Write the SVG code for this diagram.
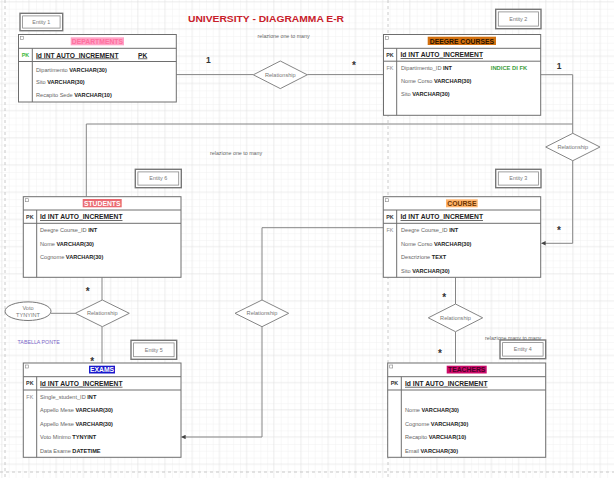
<svg xmlns="http://www.w3.org/2000/svg" width="614" height="478" viewBox="0 0 614 478">
<style>
text{font-family:"Liberation Sans",Arial,sans-serif;}
.tbl{fill:#fff;stroke:#6e6e6e;stroke-width:1;}
.sep{stroke:#6e6e6e;stroke-width:1;}
.ico{fill:#fff;stroke:#888;stroke-width:0.6;}
.h{font-size:6.8px;font-weight:bold;text-anchor:middle;}
.id{font-size:6.7px;font-weight:bold;fill:#222;text-decoration:underline;}
.pk{font-size:5.4px;font-weight:bold;fill:#333;text-anchor:middle;}
.pkg{font-size:5.4px;font-weight:bold;fill:#3cb83c;text-anchor:middle;}
.fk{font-size:5.4px;fill:#888;text-anchor:middle;}
.r{font-size:5.6px;fill:#666;}
.r tspan{font-weight:bold;fill:#222;}
.ent rect.o{fill:#fff;stroke:#777;stroke-width:1.4;}
.ent rect.i{fill:none;stroke:#888;stroke-width:0.8;}
.ent text{font-size:5.4px;fill:#777;text-anchor:middle;}
.con{fill:none;stroke:#858585;stroke-width:1;}
.dia{fill:#fff;stroke:#858585;stroke-width:1;}
.rl{font-size:5.6px;fill:#777;text-anchor:middle;}
.note{font-size:5.3px;fill:#666;}
.card{font-size:8.5px;font-weight:bold;fill:#333;text-anchor:middle;}
.star{font-size:10px;font-weight:bold;fill:#333;text-anchor:middle;}
</style>
<defs>
<pattern id="gmin" width="6.8" height="6.8" patternUnits="userSpaceOnUse" x="1" y="1">
<path d="M6.8 0 L0 0 0 6.8" fill="none" stroke="#ececec" stroke-width="0.6"/>
</pattern>
<pattern id="gmaj" width="27.2" height="27.2" patternUnits="userSpaceOnUse" x="1" y="1">
<rect width="27.2" height="27.2" fill="url(#gmin)"/>
<path d="M27.2 0 L0 0 0 27.2" fill="none" stroke="#dedede" stroke-width="0.7"/>
</pattern>
<marker id="arr" viewBox="0 0 6 6" refX="5.5" refY="3" markerWidth="4.5" markerHeight="4.5" orient="auto" markerUnits="userSpaceOnUse">
<path d="M0 0 L6 3 L0 6 Z" fill="#444"/>
</marker>
</defs>

<rect width="614" height="478" fill="#fff"/>
<rect width="614" height="478" fill="url(#gmaj)"/>
<g id="pagebreaks" stroke="#bdbdbd" stroke-width="0.8" stroke-dasharray="3 3" fill="none">
<line x1="5" y1="0" x2="5" y2="478"/>
<line x1="388" y1="0" x2="388" y2="478"/>
<line x1="0" y1="472" x2="614" y2="472"/>
</g>

<g id="title">
<text x="188" y="22" font-size="9.6" font-weight="bold" fill="#c8202a" textLength="156" lengthAdjust="spacingAndGlyphs">UNIVERSITY - DIAGRAMMA E-R</text>
<text x="257.5" y="38" class="note">relazione one to many</text>
<text x="210" y="155" class="note">relazione one to many</text>
<text x="485" y="340" class="note">relazione many to many</text>
<text x="17.5" y="344" font-size="5.3" fill="#7b68c8">TABELLA PONTE</text>
</g>

<g id="connectors">
<line class="con" x1="176" y1="74.6" x2="253.3" y2="74.6"/>
<line class="con" x1="307.3" y1="74.6" x2="383.5" y2="74.6"/>
<polyline class="con" points="540.7,74.7 572.7,74.7 572.7,133.3"/>
<polyline class="con" points="86.3,196.7 86.3,124 572.7,124"/>
<polyline class="con" points="572.7,160.7 572.7,243.3 541.5,243.3" marker-end="url(#arr)"/>
<line class="con" x1="102" y1="277.3" x2="102" y2="300"/>
<line class="con" x1="102" y1="326.7" x2="102" y2="363"/>
<line class="con" x1="51" y1="313.3" x2="75.3" y2="313.3"/>
<polyline class="con" points="383.3,227.7 262,227.7 262,300"/>
<polyline class="con" points="262,326.7 262,437 181.5,437" marker-end="url(#arr)"/>
<line class="con" x1="455.5" y1="277.3" x2="455.5" y2="304"/>
<line class="con" x1="455.5" y1="331.7" x2="455.5" y2="363"/>
</g>

<g id="rel1"><polygon class="dia" points="280.3,61 307.3,74.8 280.3,88.6 253.3,74.8"/><text class="rl" x="280.3" y="76.8">Relationship</text></g>
<g id="rel2"><polygon class="dia" points="572.8,133.3 600,147 572.8,160.7 545.7,147"/><text class="rl" x="572.8" y="149">Relationship</text></g>
<g id="rel3"><polygon class="dia" points="102.3,300 129.3,313.3 102.3,326.7 75.3,313.3"/><text class="rl" x="102.3" y="315.3">Relationship</text></g>
<g id="rel4"><polygon class="dia" points="262,300 288.7,313.3 262,326.7 235,313.3"/><text class="rl" x="262" y="315.3">Relationship</text></g>
<g id="rel5"><polygon class="dia" points="455.5,304 482.7,317.8 455.5,331.7 428.3,317.8"/><text class="rl" x="455.5" y="319.8">Relationship</text></g>

<g id="voto">
<ellipse cx="28" cy="311.2" rx="23" ry="9.3" fill="#fff" stroke="#777" stroke-width="1"/>
<text class="rl" x="28" y="309.5">Voto</text>
<text class="rl" x="28" y="316.5">TYNYINT</text>
</g>

<g id="cardinalities">
<text class="card" x="208.3" y="62.8">1</text>
<text class="star" x="354" y="69">*</text>
<text class="card" x="559" y="68.8">1</text>
<text class="star" x="559" y="234">*</text>
<text class="star" x="87.7" y="295">*</text>
<text class="star" x="92.3" y="364.5">*</text>
<text class="star" x="444.3" y="301">*</text>
<text class="star" x="440" y="357">*</text>
</g>

<g id="entity1" class="ent"><rect class="o" x="20" y="13.3" width="42.7" height="17.4"/><rect class="i" x="22.6" y="15.9" width="37.5" height="12.2"/><text x="41.3" y="23.8">Entity 1</text></g>
<g id="entity2" class="ent"><rect class="o" x="495.7" y="9.3" width="45.3" height="19.4"/><rect class="i" x="498.3" y="11.9" width="40.1" height="14.2"/><text x="518.3" y="20.8">Entity 2</text></g>
<g id="entity6" class="ent"><rect class="o" x="135.3" y="169.3" width="46" height="18.4"/><rect class="i" x="137.9" y="171.9" width="40.8" height="13.2"/><text x="158.3" y="180.3">Entity 6</text></g>
<g id="entity3" class="ent"><rect class="o" x="495.7" y="169.3" width="45.3" height="18.4"/><rect class="i" x="498.3" y="171.9" width="40.1" height="13.2"/><text x="518.3" y="180.3">Entity 3</text></g>
<g id="entity5" class="ent"><rect class="o" x="131" y="340.3" width="45.7" height="19"/><rect class="i" x="133.6" y="342.9" width="40.5" height="13.8"/><text x="153.8" y="351.6">Entity 5</text></g>
<g id="entity4" class="ent"><rect class="o" x="500" y="340" width="45.7" height="18.7"/><rect class="i" x="502.6" y="342.6" width="40.5" height="13.5"/><text x="522.8" y="351.3">Entity 4</text></g>

<g id="departments">
<rect class="tbl" x="18.5" y="34.5" width="157.8" height="67.5"/>
<line class="sep" x1="18.5" y1="48.3" x2="176.3" y2="48.3"/>
<line class="sep" x1="18.5" y1="61.5" x2="176.3" y2="61.5"/>
<line class="sep" x1="32.3" y1="48.3" x2="32.3" y2="102"/>
<rect class="ico" x="20.5" y="36.5" width="3" height="3"/>
<rect x="70.7" y="37.3" width="53.3" height="8" fill="#ffa3c6"/>
<text class="h" x="97.4" y="43.8" fill="#ff6f9e">DEPARTMENTS</text>
<text class="pkg" x="25.4" y="57">PK</text>
<text class="id" x="36" y="57.5">Id INT AUTO_INCREMENT</text>
<text class="id" x="138" y="57.5">PK</text>
<text class="r" x="36" y="71.6">Dipartimento <tspan>VARCHAR(30)</tspan></text>
<text class="r" x="36" y="83.8">Sito  <tspan>VARCHAR(30)</tspan></text>
<text class="r" x="36" y="97">Recapito Sede <tspan>VARCHAR(10)</tspan></text>
</g>

<g id="deegre_courses">
<rect class="tbl" x="383.5" y="34.5" width="157.2" height="80.8"/>
<line class="sep" x1="383.5" y1="48.3" x2="540.7" y2="48.3"/>
<line class="sep" x1="383.5" y1="61.2" x2="540.7" y2="61.2"/>
<line class="sep" x1="396.7" y1="48.3" x2="396.7" y2="115.3"/>
<rect class="ico" x="385.5" y="36.5" width="3" height="3"/>
<rect x="427.7" y="36.7" width="68.3" height="8.3" fill="#d2700f"/>
<text class="h" x="461.9" y="43.5" fill="#2a1400">DEEGRE COURSES</text>
<text class="pk" x="390" y="56.8">PK</text>
<text class="id" x="400.5" y="57.3">Id INT AUTO_INCREMENT</text>
<text class="fk" x="390" y="69.6">FK</text>
<text class="r" x="401" y="69.7">Dipartimento_ID  <tspan>INT</tspan></text>
<text x="509" y="69.7" font-size="5.8" font-weight="bold" fill="#3d9e3d" text-anchor="middle">INDICE DI FK</text>
<text class="r" x="401" y="83.3">Nome Corso <tspan>VARCHAR(30)</tspan></text>
<text class="r" x="401" y="96.3">Sito  <tspan>VARCHAR(30)</tspan></text>
</g>

<g id="students">
<rect class="tbl" x="23.3" y="196.7" width="157.7" height="80.6"/>
<line class="sep" x1="23.3" y1="210" x2="181" y2="210"/>
<line class="sep" x1="23.3" y1="223.3" x2="181" y2="223.3"/>
<line class="sep" x1="36.7" y1="210" x2="36.7" y2="277.3"/>
<rect class="ico" x="25.3" y="198.7" width="3" height="3"/>
<rect x="82.7" y="199" width="39" height="8.3" fill="#ea6b72"/>
<text class="h" x="102.2" y="205.8" fill="#fff">STUDENTS</text>
<text class="pk" x="29.8" y="218.6">PK</text>
<text class="id" x="40" y="219.1">Id INT AUTO_INCREMENT</text>
<text class="r" x="40" y="232">Deegre Course_ID  <tspan>INT</tspan></text>
<text class="r" x="40" y="246">Nome <tspan>VARCHAR(30)</tspan></text>
<text class="r" x="40" y="258.7">Cognome <tspan>VARCHAR(30)</tspan></text>
</g>

<g id="course">
<rect class="tbl" x="383.3" y="196.7" width="157.4" height="80.6"/>
<line class="sep" x1="383.3" y1="210" x2="540.7" y2="210"/>
<line class="sep" x1="383.3" y1="223.3" x2="540.7" y2="223.3"/>
<line class="sep" x1="396.7" y1="210" x2="396.7" y2="277.3"/>
<rect class="ico" x="385.3" y="198.7" width="3" height="3"/>
<rect x="446" y="199.3" width="31.7" height="8" fill="#ffb36b"/>
<text class="h" x="461.9" y="205.8" fill="#6b3300">COURSE</text>
<text class="pk" x="390" y="218.6">PK</text>
<text class="id" x="400.5" y="219.1">Id INT AUTO_INCREMENT</text>
<text class="fk" x="390" y="231.9">FK</text>
<text class="r" x="401" y="232">Deegre Course_ID  <tspan>INT</tspan></text>
<text class="r" x="401" y="246.3">Nome Corso <tspan>VARCHAR(30)</tspan></text>
<text class="r" x="401" y="258.7">Descrizione <tspan>TEXT</tspan></text>
<text class="r" x="401" y="272.5">Sito <tspan>VARCHAR(30)</tspan></text>
</g>

<g id="exams">
<rect class="tbl" x="23.3" y="363" width="157.7" height="94.3"/>
<line class="sep" x1="23.3" y1="376.7" x2="181" y2="376.7"/>
<line class="sep" x1="23.3" y1="390" x2="181" y2="390"/>
<line class="sep" x1="36.7" y1="376.7" x2="36.7" y2="457.3"/>
<rect class="ico" x="25.3" y="365" width="3" height="3"/>
<rect x="89" y="365.7" width="26" height="7.8" fill="#1a1acc"/>
<text class="h" x="102" y="372.2" fill="#fff">EXAMS</text>
<text class="pk" x="29.8" y="385.3">PK</text>
<text class="id" x="40" y="385.8">Id INT AUTO_INCREMENT</text>
<text class="fk" x="29.8" y="398.6">FK</text>
<text class="r" x="40" y="398.7">Single_student_ID  <tspan>INT</tspan></text>
<text class="r" x="40" y="412">Appello Mese <tspan>VARCHAR(30)</tspan></text>
<text class="r" x="40" y="426">Appello Mese <tspan>VARCHAR(30)</tspan></text>
<text class="r" x="40" y="439">Voto Minimo <tspan>TYNYINT</tspan></text>
<text class="r" x="40" y="453">Data Esame  <tspan>DATETIME</tspan></text>
</g>

<g id="teachers">
<rect class="tbl" x="387.7" y="363" width="158" height="94.3"/>
<line class="sep" x1="387.7" y1="376.7" x2="545.7" y2="376.7"/>
<line class="sep" x1="387.7" y1="390" x2="545.7" y2="390"/>
<line class="sep" x1="401.3" y1="376.7" x2="401.3" y2="457.3"/>
<rect class="ico" x="389.7" y="365" width="3" height="3"/>
<rect x="446.7" y="365.7" width="40" height="7.8" fill="#cc0a6a"/>
<text class="h" x="466.7" y="372.2" fill="#4a0026">TEACHERS</text>
<text class="pk" x="394.5" y="385.3">PK</text>
<text class="id" x="405" y="385.8">Id INT AUTO_INCREMENT</text>
<text class="r" x="405" y="412">Nome  <tspan>VARCHAR(30)</tspan></text>
<text class="r" x="405" y="426">Cognome  <tspan>VARCHAR(30)</tspan></text>
<text class="r" x="405" y="439">Recapito <tspan>VARCHAR(10)</tspan></text>
<text class="r" x="405" y="453">Email <tspan>VARCHAR(30)</tspan></text>
</g>
</svg>
